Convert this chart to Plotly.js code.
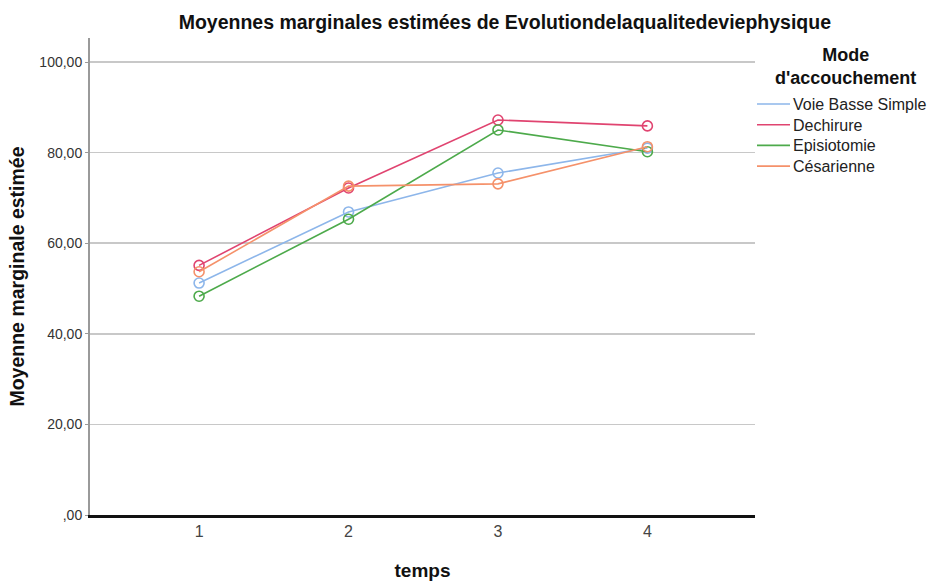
<!DOCTYPE html>
<html><head><meta charset="utf-8">
<script src="https://cdn.plot.ly/plotly-3.0.1.min.js"></script>
<style>body{margin:0;background:#fff}#c{width:928px;height:581px}</style>
</head><body><div id="c"></div>
<script>
const temps = [1, 2, 3, 4];
const seriesNames = ["Voie Basse Simple", "Dechirure", "Episiotomie", "Césarienne"];
const voieBasse = [51.2, 66.9, 75.5, 81.0];
const dechirure = [55.1, 72.2, 87.2, 85.9];
const episiotomie = [48.3, 65.3, 85.0, 80.2];
const cesarienne = [53.7, 72.6, 73.1, 81.3];
const yTickVals = [0, 20, 40, 60, 80, 100];
const yTickText = [",00", "20,00", "40,00", "60,00", "80,00", "100,00"];
const xTickText = ["1", "2", "3", "4"];
const legendTitle = "Mode<br>d'accouchement";

const values = [voieBasse, dechirure, episiotomie, cesarienne];
const colors = ["#8db6ea", "#e04470", "#4daa4b", "#f5916a"];
const traces = [];
seriesNames.forEach((n, i) => {
  traces.push({x: temps, y: values[i], name: n, mode: "lines+markers", type: "scatter",
    line: {color: colors[i], width: 1.6},
    marker: {symbol: "circle-open", size: 10, color: colors[i], line: {width: 1.6, color: colors[i]}},
    showlegend: false, hoverinfo: "skip"});
});

// legend drawn in paper space (plot area: x 90..755, y 38..515)
const px = v => (v - 90) / 665;
const py = v => (515 - v) / 477;
const shapes = [];
const annotations = [
  {text: "<b>" + legendTitle + "</b>", x: px(845), y: py(66.5), xanchor: "center", yanchor: "middle",
   align: "center", xref: "paper", yref: "paper", showarrow: false, font: {size: 18, color: "#111"}}
];
seriesNames.forEach((n, i) => {
  const yy = 104 + i * 20.7;
  shapes.push({type: "line", xref: "paper", yref: "paper", x0: px(757), x1: px(790), y0: py(yy), y1: py(yy),
    line: {color: colors[i], width: 1.6}});
  annotations.push({text: n, xref: "paper", yref: "paper", x: px(791), y: py(yy + 0.5), xanchor: "left", yanchor: "middle",
    showarrow: false, font: {size: 16, color: "#222"}});
});

const layout = {
  width: 928, height: 581,
  margin: {l: 90, r: 173, t: 38, b: 66, autoexpand: false},
  paper_bgcolor: "#fff", plot_bgcolor: "#fff",
  font: {family: "Liberation Sans, Arial, sans-serif", color: "#222"},
  title: {text: "<b>Moyennes marginales estimées de Evolutiondelaqualitedeviephysique</b>",
    x: 0.544, xanchor: "center", y: 0.962, yanchor: "middle", font: {size: 19.5, color: "#111"}},
  xaxis: {range: [0.27, 4.72], tickvals: temps, ticktext: xTickText, showgrid: false, zeroline: false,
    showline: true, linecolor: "#111", linewidth: 3, ticks: "", tickfont: {size: 16, color: "#444"},
    title: {text: "<b>temps</b>", font: {size: 19, color: "#111"}, standoff: 27}},
  yaxis: {range: [0, 105.3], tickvals: yTickVals, ticktext: yTickText, showgrid: true,
    gridcolor: "#c8c8c8", gridwidth: 1.5, zeroline: false, showline: true, linecolor: "#9a9a9a", linewidth: 2,
    ticks: "outside", ticklen: 3, tickcolor: "#9a9a9a", tickfont: {size: 14, color: "#333"},
    title: {text: "<b>Moyenne marginale estimée</b>", font: {size: 19.5, color: "#111"}, standoff: 10}},
  shapes: shapes,
  annotations: annotations,
  showlegend: false
};
Plotly.newPlot("c", traces, layout, {displayModeBar: false, staticPlot: true});
</script></body></html>
